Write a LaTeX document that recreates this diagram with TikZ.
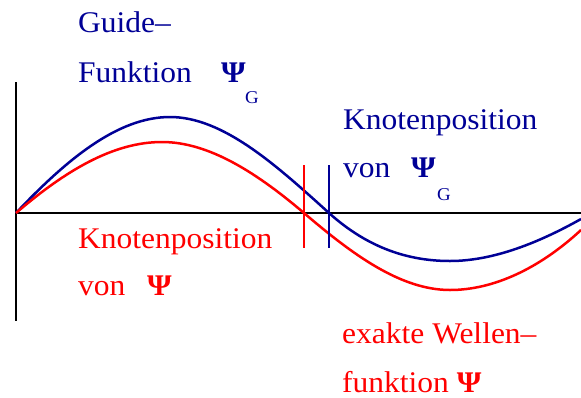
\documentclass[tikz,border=0pt]{standalone}
\usepackage{fontspec}
\setmainfont[FakeStretch=1.05]{Liberation Serif}
\definecolor{navy}{RGB}{0,0,150}
\definecolor{pred}{RGB}{255,0,0}
\begin{document}
\begin{tikzpicture}[x=1pt,y=-1pt,
  lbl/.style={inner sep=0pt,anchor=base west,font=\fontsize{30}{34}\selectfont},
  psi/.style={lbl,font=\fontsize{30}{34}\selectfont\bfseries},
  sub/.style={inner sep=0pt,anchor=base west,font=\fontsize{18}{20}\selectfont},
  axis/.style={line width=2.2pt,black},
  curve/.style={line width=2.5pt},
  tick/.style={line width=2pt}]
\useasboundingbox (0,0) rectangle (581,397);
% axes
\coordinate (yt) at (16,82);
\coordinate (yb) at (16,321);
\coordinate (o) at (16,213);
\coordinate (xr) at (581,213);
\draw[axis] (yt) -- (yb);
\draw[axis] (o) -- (xr);
% guide function (blue)
\draw[curve,navy] (16,213) .. controls (67,159) and (118,117) .. (170,117)
  .. controls (223,117) and (276,165) .. (329,213)
  .. controls (369,249) and (410,261) .. (450,261)
  .. controls (494,261) and (540,242) .. (581,219);
% exact wave function (red)
\draw[curve,pred] (16,213) .. controls (65,171) and (113,142) .. (162,142)
  .. controls (209,142) and (257,173) .. (304,213)
  .. controls (353,255) and (401,290) .. (450,290)
  .. controls (494,290) and (540,268) .. (581,230);
% node markers
\coordinate (rt) at (304,165); \coordinate (rb) at (304,248);
\coordinate (bt) at (329,165); \coordinate (bb) at (329,248);
\draw[tick,pred] (rt) -- (rb);
\draw[tick,navy] (bt) -- (bb);
% labels
\node[lbl,navy] (g1) at (78,32) {Guide–};
\node[lbl,navy] (g2) at (78,82) {Funktion};
\node[psi,navy] (g3) at (221,82) {Ψ};
\node[sub,navy] (g4) at (245,103) {G};
\node[lbl,navy] (k1) at (343,129) {Knotenposition};
\node[lbl,navy] (k2) at (343,177) {von};
\node[psi,navy] (k3) at (411,177) {Ψ};
\node[sub,navy] (k4) at (437,200) {G};
\node[lbl,pred] (r1) at (78,248) {Knotenposition};
\node[lbl,pred] (r2) at (78,295) {von};
\node[psi,pred] (r3) at (147,295) {Ψ};
\node[lbl,pred] (e1) at (342,343) {exakte Wellen–};
\node[lbl,pred] (e2) at (342,392) {funktion {\bfseries Ψ}};
\end{tikzpicture}
\end{document}
